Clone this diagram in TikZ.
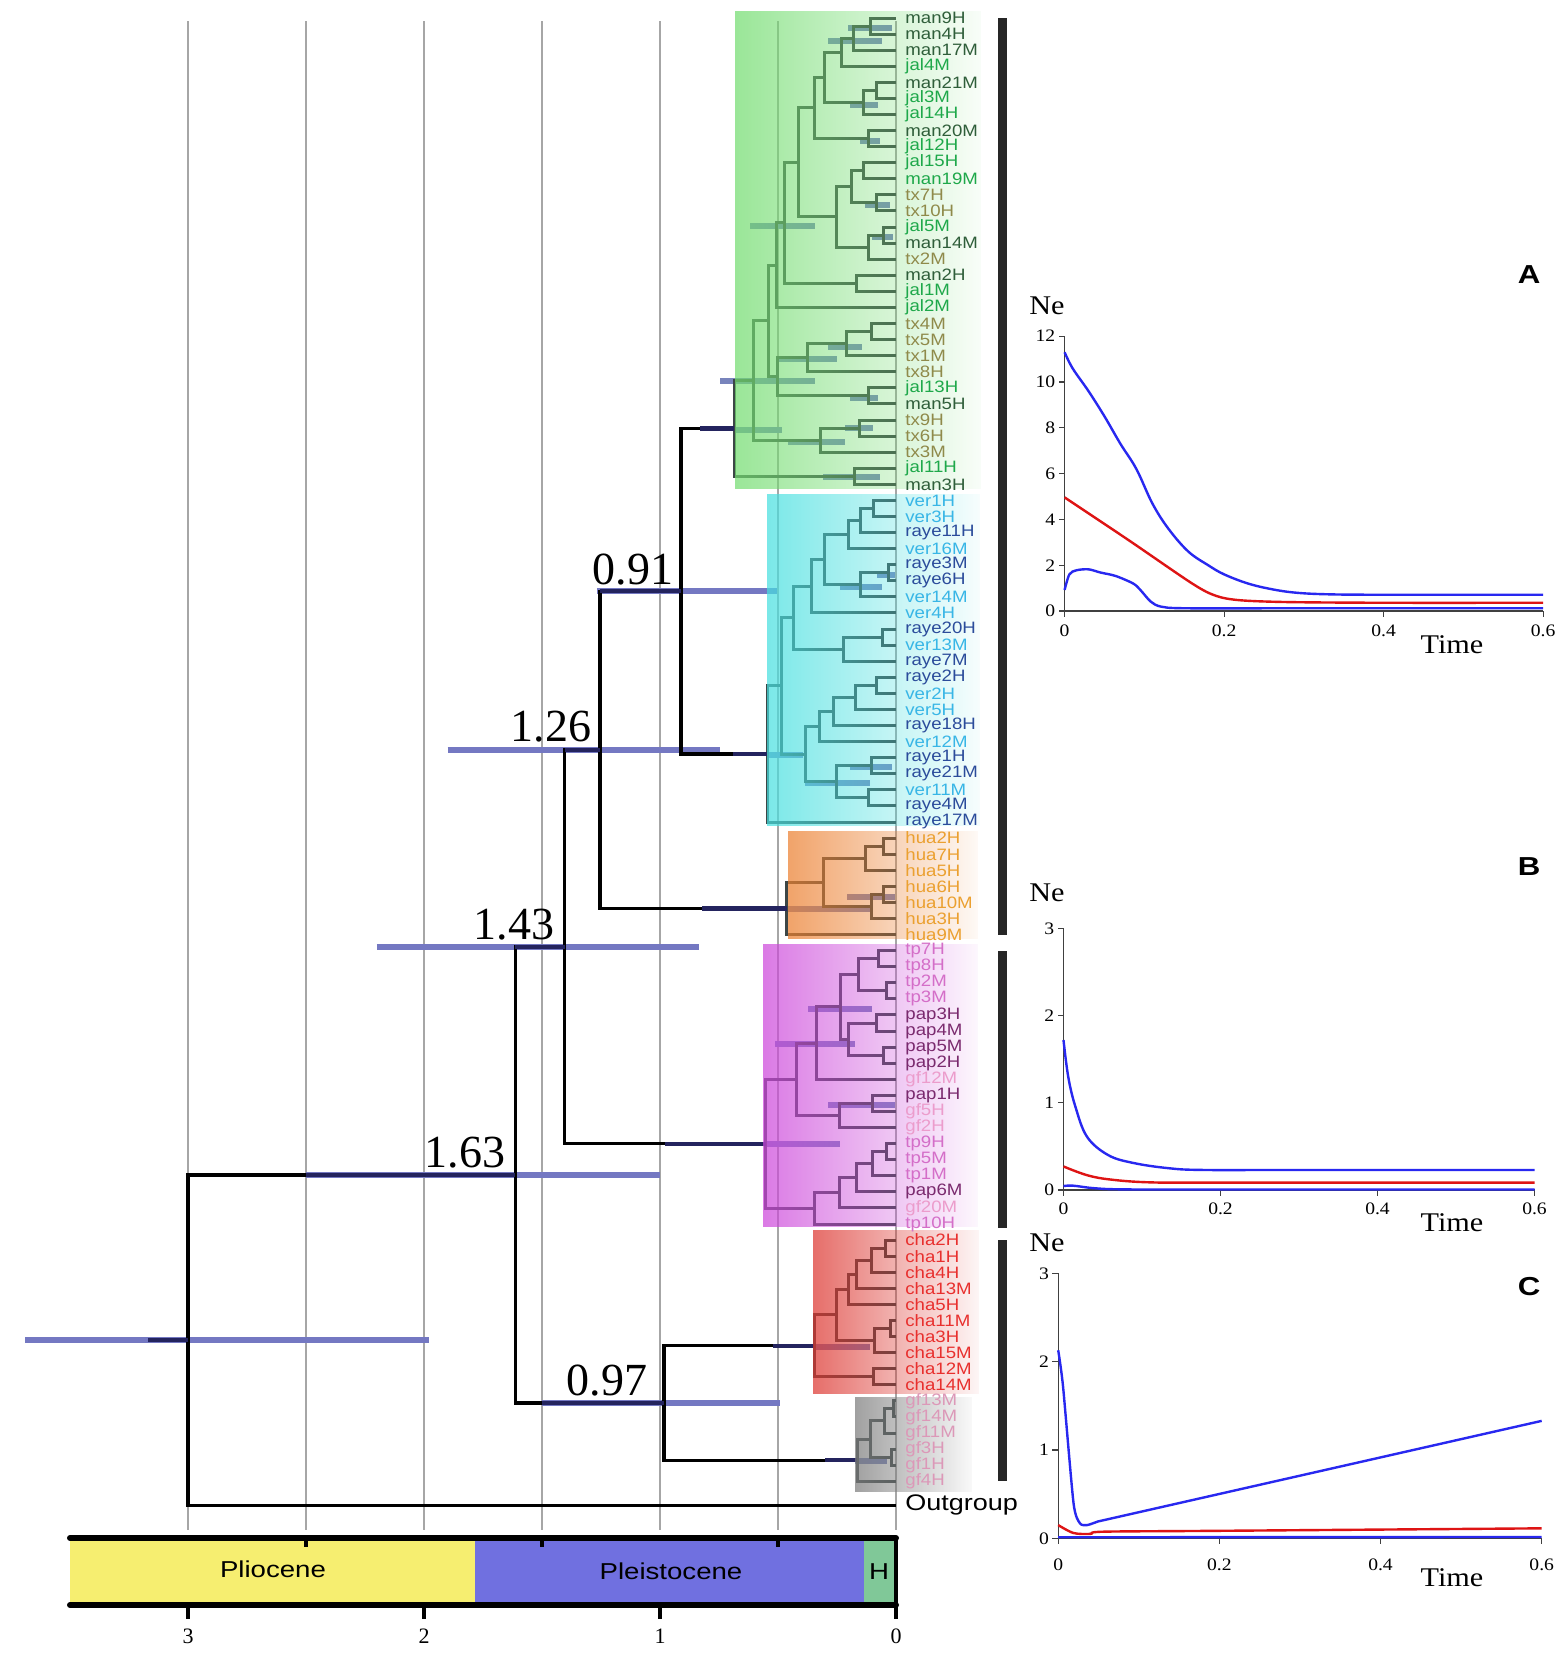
\documentclass[tikz,border=0pt]{standalone}
\usepackage{fontspec}
\setmainfont{Liberation Serif}
\newfontfamily\leaffont[FakeStretch=1.13]{Liberation Sans}
\newfontfamily\epfont[FakeStretch=1.2]{Liberation Sans}
\newfontfamily\plotfont[FakeStretch=1.12]{Liberation Serif}
\usetikzlibrary{fadings}
\pgfdeclarelayer{back}
\pgfdeclarelayer{hpdl}
\pgfsetlayers{back,hpdl,main}
% label colours
\definecolor{gD}{HTML}{2F5E3A}
\definecolor{gG}{HTML}{1EA84A}
\definecolor{gO}{HTML}{8F8A4A}
\definecolor{cyV}{HTML}{38B6E6}
\definecolor{cyR}{HTML}{2B4C9B}
\definecolor{oH}{HTML}{EBA030}
\definecolor{mT}{HTML}{D46EC8}
\definecolor{mP}{HTML}{7A2A6E}
\definecolor{mF}{HTML}{EC9CCC}
\definecolor{rC}{HTML}{E8302E}
\definecolor{yF}{HTML}{DC98B8}
% box colours
\definecolor{bxG}{RGB}{115,221,112}
\definecolor{bxC}{RGB}{71,224,224}
\definecolor{bxO}{RGB}{236,128,48}
\definecolor{bxM}{RGB}{205,71,219}
\definecolor{bxR}{RGB}{221,54,48}
\definecolor{bxY}{RGB}{124,124,124}
% lines
\definecolor{treecol}{HTML}{3C4646}
\definecolor{hpdcol}{HTML}{7478C2}
\definecolor{hpdcolc}{HTML}{7884BC}
\definecolor{navycol}{HTML}{24245E}
\definecolor{epY}{HTML}{F6EE70}
\definecolor{epB}{HTML}{7070E0}
\definecolor{epG}{HTML}{80C898}
\definecolor{plB}{RGB}{40,40,240}
\definecolor{plR}{RGB}{222,20,20}
\tikzfading[name=boxfade, left color=transparent!28, right color=transparent!96]
\newcommand\Y[1]{\csname ty#1\endcsname}
\newcommand\ND[5][tl]{%
  \pgfmathsetmacro\tmpy{(\Y{#4}+\Y{#5})/2}%
  \expandafter\xdef\csname ty#2\endcsname{\tmpy}%
  \coordinate (#2) at (#3,\tmpy);
  \draw[#1] (#4) -| (#2) |- (#5);
}
\newcommand\HPD[3]{\begin{pgfonlayer}{hpdl}\draw[hpdb] (#2,\Y{#1}) -- (#3,\Y{#1});\end{pgfonlayer}}
\newcommand\HB[3]{\draw[hpdc] (#1,#3) -- (#2,#3);}
\newcommand\LB[3]{\node[leaf,text=#3] (T#1) at (0,#1) {#2};}
\begin{document}
\begin{tikzpicture}[x=0.5pt,y=-0.5pt,
  treescope/.style={shift={(896,18)},x=-118pt,y=-8.04pt},
  tl/.style={draw=treecol,line width=1.5pt},
  bb/.style={draw=black,line width=1.6pt},
  hpdb/.style={draw=hpdcol,line width=3pt},
  hpdc/.style={draw=hpdcolc,line width=2.6pt},
  navseg/.style={draw=navycol,line width=2.3pt},
  gridl/.style={draw=black!35,line width=0.7pt},
  leaf/.style={anchor=west,inner sep=0pt,xshift=4.5pt,font=\leaffont\fontsize{8.25}{9}\selectfont},
  nodelab/.style={inner sep=0pt,font=\fontsize{23}{26}\selectfont},
  axisl/.style={draw=black!75,line width=0.6pt},
  tickl/.style={inner sep=0pt,font=\plotfont\fontsize{8.75}{10}\selectfont},
  bigl/.style={inner sep=0pt,font=\plotfont\fontsize{13.5}{15}\selectfont},
  abcl/.style={inner sep=0pt,font=\epfont\bfseries\fontsize{13}{15}\selectfont},
  curve/.style={line width=1.2pt},
  epl/.style={inner sep=0pt,font=\epfont\fontsize{11.5}{13}\selectfont},
  digl/.style={inner sep=0pt,font=\fontsize{11}{13}\selectfont}]
\useasboundingbox (0,0) rectangle (1562,1654);
\begin{pgfonlayer}{back}
  \fill[white] (0,0) rectangle (1562,1654);
  \foreach \x in {188,306,424,542,660,778,896} \draw[gridl] (\x,21) -- (\x,1530);
\end{pgfonlayer}

% ---------------- tree ----------------
\begin{scope}[treescope]
  \foreach \i in {0,...,91} {\coordinate (L\i) at (0,\i); \expandafter\xdef\csname tyL\i\endcsname{\i}}
  \coordinate (LOG) at (0,92.5); \expandafter\xdef\csname tyLOG\endcsname{92.5}
  % green
  \ND{g1}{0.110}{L0}{L1}
  \ND{g2}{0.181}{g1}{L2}
  \ND{g3}{0.233}{g2}{L3}
  \ND{g4}{0.082}{L4}{L5}
  \ND{g5}{0.138}{g4}{L6}
  \ND{g6}{0.301}{g3}{g5}
  \ND{g7}{0.116}{L7}{L8}
  \ND{g8}{0.347}{g6}{g7}
  \ND{g9}{0.138}{L9}{L10}
  \ND{g10}{0.082}{L11}{L12}
  \ND{g11}{0.188}{g9}{g10}
  \ND{g12}{0.054}{L13}{L14}
  \ND{g13}{0.116}{g12}{L15}
  \ND{g14}{0.251}{g11}{g13}
  \ND{g15}{0.414}{g8}{g14}
  \ND{g16}{0.167}{L16}{L17}
  \ND{g17}{0.473}{g15}{g16}
  \ND{g18}{0.506}{g17}{L18}
  \ND{g19}{0.103}{L19}{L20}
  \ND{g20}{0.209}{g19}{L21}
  \ND{g21}{0.374}{g20}{L22}
  \ND{g22}{0.117}{L23}{L24}
  \ND{g23}{0.501}{g21}{g22}
  \ND{g24}{0.541}{g18}{g23}
  \ND{g25}{0.153}{L25}{L26}
  \ND{g26}{0.322}{g25}{L27}
  \ND{g27}{0.604}{g24}{g26}
  \ND{g28}{0.174}{L28}{L29}
  \ND{gR}{0.686}{g27}{g28}
  % cyan
  \ND{c1}{0.096}{L30}{L31}
  \ND{c2}{0.149}{c1}{L32}
  \ND{c3}{0.202}{c2}{L33}
  \ND{c4}{0.032}{L34}{L35}
  \ND{c5}{0.149}{c4}{L36}
  \ND{c6}{0.301}{c3}{c5}
  \ND{c7}{0.36}{c6}{L37}
  \ND{c8}{0.056}{L38}{L39}
  \ND{c9}{0.223}{c8}{L40}
  \ND{c10}{0.435}{c7}{c9}
  \ND{c11}{0.082}{L41}{L42}
  \ND{c12}{0.17}{c11}{L43}
  \ND{c13}{0.266}{c12}{L44}
  \ND{c14}{0.326}{c13}{L45}
  \ND{c15}{0.103}{L46}{L47}
  \ND{c16}{0.117}{L48}{L49}
  \ND{c17}{0.252}{c15}{c16}
  \ND{c18}{0.383}{c14}{c17}
  \ND{c19}{0.484}{c10}{c18}
  \ND{cR}{0.545}{c19}{L50}
  % orange
  \ND{o1}{0.054}{L51}{L52}
  \ND{o2}{0.131}{o1}{L53}
  \ND{o3}{0.054}{L54}{L55}
  \ND{o4}{0.103}{o3}{L56}
  \ND{o5}{0.308}{o2}{o4}
  \ND{oR}{0.462}{o5}{L57}
  % magenta
  \ND{m1}{0.075}{L58}{L59}
  \ND{m2}{0.042}{L60}{L61}
  \ND{m3}{0.16}{m1}{m2}
  \ND{m4}{0.082}{L62}{L63}
  \ND{m5}{0.053}{L64}{L65}
  \ND{m6}{0.202}{m4}{m5}
  \ND{m7}{0.234}{m3}{m6}
  \ND{m8}{0.336}{m7}{L66}
  \ND{m9}{0.1}{L67}{L68}
  \ND{m10}{0.24}{m9}{L69}
  \ND{m11}{0.421}{m8}{m10}
  \ND{m12}{0.04}{L70}{L71}
  \ND{m13}{0.1}{m12}{L72}
  \ND{m14}{0.166}{m13}{L73}
  \ND{m15}{0.24}{m14}{L74}
  \ND{m16}{0.347}{m15}{L75}
  \ND{mR}{0.552}{m11}{m16}
  % red
  \ND{r1}{0.044}{L76}{L77}
  \ND{r2}{0.103}{r1}{L78}
  \ND{r3}{0.166}{r2}{L79}
  \ND{r4}{0.202}{r3}{L80}
  \ND{r5}{0.025}{L81}{L82}
  \ND{r6}{0.093}{r5}{L83}
  \ND{r7}{0.251}{r4}{r6}
  \ND{r8}{0.096}{L84}{L85}
  \ND{rR}{0.347}{r7}{r8}
  % gray
  \ND{y1}{0.011}{L86}{L87}
  \ND{y2}{0.047}{y1}{L88}
  \ND{y3}{0.018}{L89}{L90}
  \ND{y4}{0.11}{y2}{y3}
  \ND{yR}{0.165}{y4}{L91}
  % backbone
  \ND[bb]{n091}{0.911}{gR}{cR}
  \ND[bb]{n126}{1.254}{n091}{oR}
  \ND[bb]{n143}{1.403}{n126}{mR}
  \ND[bb]{n097}{0.983}{rR}{yR}
  \ND[bb]{n163}{1.614}{n143}{n097}
  \ND[bb]{nRoot}{3.0}{n163}{LOG}
  % backbone HPD bars
  \HPD{nRoot}{3.69}{1.98}
  \HPD{n163}{2.5}{1.0}
  \HPD{n143}{2.2}{0.835}
  \HPD{n126}{1.9}{0.746}
  \HPD{n091}{1.267}{0.504}
  \HPD{n097}{1.5}{0.49}
  % dark overlaps of bars and branches
  \draw[navseg] (nRoot) -- (3.17,\Y{nRoot});
  \draw[navseg] (n163) -- (2.5,\Y{n163});
  \draw[navseg] (n143) -- (1.614,\Y{n143});
  \draw[navseg] (n126) -- (1.403,\Y{n126});
  \draw[navseg] (n091) -- (1.254,\Y{n091});
  \draw[navseg] (n097) -- (1.5,\Y{n097});
  \draw[navseg] (gR) -- (0.83,\Y{gR});
  \draw[navseg] (cR) -- (0.69,\Y{cR});
  \draw[navseg] (oR) -- (0.82,\Y{oR});
  \draw[navseg] (mR) -- (0.98,\Y{mR});
  \draw[navseg] (rR) -- (0.52,\Y{rR});
  \draw[navseg] (yR) -- (0.30,\Y{yR});
\end{scope}

% clade HPD bars
\begin{pgfonlayer}{hpdl}
  \HB{848}{892}{28}  \HB{828}{882}{41}  \HB{850}{878}{105} \HB{860}{880}{141}
  \HB{865}{890}{205} \HB{750}{815}{226} \HB{872}{893}{237} \HB{828}{862}{347}
  \HB{778}{837}{359} \HB{720}{815}{381} \HB{850}{878}{398} \HB{845}{873}{428}
  \HB{736}{782}{430} \HB{788}{845}{442} \HB{823}{880}{477}
  \HB{877}{895}{575} \HB{840}{882}{587} \HB{850}{892}{767} \HB{805}{870}{783}
  \HB{767}{803}{755}
  \HB{847}{895}{897} \HB{788}{870}{909}
  \HB{808}{872}{1009} \HB{775}{855}{1044} \HB{828}{895}{1105} \HB{767}{840}{1144}
  \HB{813}{870}{1347}
  \HB{855}{887}{1461}
\end{pgfonlayer}

% clade boxes
\fill[bxG, path fading=boxfade] (735,11) rectangle (981,489);
\fill[bxC, path fading=boxfade] (767,494) rectangle (980,826);
\fill[bxO, path fading=boxfade] (788,831) rectangle (978,939);
\fill[bxM, path fading=boxfade] (763,944) rectangle (978,1227);
\fill[bxR, path fading=boxfade] (813,1230) rectangle (979,1394);
\fill[bxY, path fading=boxfade] (855,1397) rectangle (972,1492);

% leaf labels
\begin{scope}[treescope]
\LB{0}{man9H}{gD}
\LB{1}{man4H}{gD}
\LB{2}{man17M}{gD}
\LB{3}{jal4M}{gG}
\LB{4}{man21M}{gD}
\LB{5}{jal3M}{gG}
\LB{6}{jal14H}{gG}
\LB{7}{man20M}{gD}
\LB{8}{jal12H}{gG}
\LB{9}{jal15H}{gG}
\LB{10}{man19M}{gG}
\LB{11}{tx7H}{gO}
\LB{12}{tx10H}{gO}
\LB{13}{jal5M}{gG}
\LB{14}{man14M}{gD}
\LB{15}{tx2M}{gO}
\LB{16}{man2H}{gD}
\LB{17}{jal1M}{gG}
\LB{18}{jal2M}{gG}
\LB{19}{tx4M}{gO}
\LB{20}{tx5M}{gO}
\LB{21}{tx1M}{gO}
\LB{22}{tx8H}{gO}
\LB{23}{jal13H}{gG}
\LB{24}{man5H}{gD}
\LB{25}{tx9H}{gO}
\LB{26}{tx6H}{gO}
\LB{27}{tx3M}{gO}
\LB{28}{jal11H}{gG}
\LB{29}{man3H}{gD}
\LB{30}{ver1H}{cyV}
\LB{31}{ver3H}{cyV}
\LB{32}{raye11H}{cyR}
\LB{33}{ver16M}{cyV}
\LB{34}{raye3M}{cyR}
\LB{35}{raye6H}{cyR}
\LB{36}{ver14M}{cyV}
\LB{37}{ver4H}{cyV}
\LB{38}{raye20H}{cyR}
\LB{39}{ver13M}{cyV}
\LB{40}{raye7M}{cyR}
\LB{41}{raye2H}{cyR}
\LB{42}{ver2H}{cyV}
\LB{43}{ver5H}{cyV}
\LB{44}{raye18H}{cyR}
\LB{45}{ver12M}{cyV}
\LB{46}{raye1H}{cyR}
\LB{47}{raye21M}{cyR}
\LB{48}{ver11M}{cyV}
\LB{49}{raye4M}{cyR}
\LB{50}{raye17M}{cyR}
\LB{51}{hua2H}{oH}
\LB{52}{hua7H}{oH}
\LB{53}{hua5H}{oH}
\LB{54}{hua6H}{oH}
\LB{55}{hua10M}{oH}
\LB{56}{hua3H}{oH}
\LB{57}{hua9M}{oH}
\LB{58}{tp7H}{mT}
\LB{59}{tp8H}{mT}
\LB{60}{tp2M}{mT}
\LB{61}{tp3M}{mT}
\LB{62}{pap3H}{mP}
\LB{63}{pap4M}{mP}
\LB{64}{pap5M}{mP}
\LB{65}{pap2H}{mP}
\LB{66}{gf12M}{mF}
\LB{67}{pap1H}{mP}
\LB{68}{gf5H}{mF}
\LB{69}{gf2H}{mF}
\LB{70}{tp9H}{mT}
\LB{71}{tp5M}{mT}
\LB{72}{tp1M}{mT}
\LB{73}{pap6M}{mP}
\LB{74}{gf20M}{mF}
\LB{75}{tp10H}{mT}
\LB{76}{cha2H}{rC}
\LB{77}{cha1H}{rC}
\LB{78}{cha4H}{rC}
\LB{79}{cha13M}{rC}
\LB{80}{cha5H}{rC}
\LB{81}{cha11M}{rC}
\LB{82}{cha3H}{rC}
\LB{83}{cha15M}{rC}
\LB{84}{cha12M}{rC}
\LB{85}{cha14M}{rC}
\LB{86}{gf13M}{yF}
\LB{87}{gf14M}{yF}
\LB{88}{gf11M}{yF}
\LB{89}{gf3H}{yF}
\LB{90}{gf1H}{yF}
\LB{91}{gf4H}{yF}
\node[anchor=west,inner sep=0pt,xshift=4.5pt,font=\epfont\fontsize{11.25}{13}\selectfont] (TOG) at (0,92.5) {Outgroup};
\end{scope}

% node age labels
\node[nodelab] (lab163) at (465,1153) {1.63};
\node[nodelab] (lab143) at (514,925) {1.43};
\node[nodelab] (lab126) at (551,727) {1.26};
\node[nodelab] (lab091) at (633,570) {0.91};
\node[nodelab] (lab097) at (607,1381) {0.97};

% right bars
\fill[black!85] (998,18) rectangle (1007,935);
\fill[black!85] (998,951) rectangle (1007,1228);
\fill[black!85] (998,1240) rectangle (1007,1481);

% time bar
\fill[epY] (70,1538) rectangle (475,1605);
\fill[epB] (475,1538) rectangle (864,1605);
\fill[epG] (864,1538) rectangle (894,1605);
\draw[line width=3pt,line cap=round] (70,1538) -- (896,1538);
\draw[line width=3pt,line cap=round] (70,1605) -- (896,1605);
\draw[line width=2pt] (896,1538) -- (896,1605);
\foreach \x in {306,542,778} \draw[line width=1.6pt] (\x,1538) -- (\x,1547);
\foreach \x in {188,424,660,896} \draw[line width=2pt] (\x,1605) -- (\x,1619);
\node[epl] (epP) at (273,1569) {Pliocene};
\node[epl] (epPl) at (671,1571) {Pleistocene};
\node[epl] (epH) at (879,1572) {H};
\node[digl] (d3) at (188,1636) {3};
\node[digl] (d2) at (424,1636) {2};
\node[digl] (d1) at (660,1636) {1};
\node[digl] (d0) at (896,1636) {0};

% ---------------- plot A ----------------
\node[abcl] (labA) at (1529,275) {A};
\node[bigl] (neA) at (1047,306) {Ne};
\node[bigl] (timeA) at (1452,645) {Time};
\begin{scope}[shift={(1064.6,611)},x=398.75pt,y=11.45pt]
  \draw[axisl] (0,12) -- (0,0) -- (0.6,0);
  \foreach \v in {0,2,4,6,8,10,12} {\draw[axisl] (0,\v) -- ++(-3pt,0pt); \node[tickl,anchor=east] (ay\v) at ([xshift=-4.5pt]0,\v) {\v};}
  \foreach \v/\n in {0/a,0.2/b,0.4/c,0.6/d} {\draw[axisl] (\v,0) -- ++(0pt,-3pt); \node[tickl,anchor=north] (ax\n) at ([yshift=-6.5pt]\v,0) {\v};}
  \draw[curve,plB] plot[smooth,tension=0.6] coordinates {(0,11.3) (0.01,10.6) (0.03,9.6) (0.05,8.5) (0.07,7.3) (0.09,6.2) (0.11,4.7) (0.13,3.6) (0.155,2.6) (0.18,2.0) (0.2,1.6) (0.23,1.2) (0.26,0.95) (0.29,0.8) (0.33,0.73) (0.4,0.71) (0.6,0.71)};
  \draw[curve,plR] plot[smooth,tension=0.5] coordinates {(0,4.96) (0.08,3.1) (0.16,1.2) (0.19,0.66) (0.22,0.47) (0.28,0.39) (0.4,0.36) (0.6,0.36)};
  \draw[curve,plB] plot[smooth,tension=0.5] coordinates {(0,0.92) (0.006,1.6) (0.015,1.78) (0.03,1.82) (0.045,1.68) (0.064,1.53) (0.086,1.2) (0.095,0.92) (0.108,0.41) (0.121,0.19) (0.152,0.12) (0.3,0.12) (0.6,0.12)};
\end{scope}

% ---------------- plot B ----------------
\node[abcl] (labB) at (1529,867) {B};
\node[bigl] (neB) at (1047,893) {Ne};
\node[bigl] (timeB) at (1452,1223) {Time};
\begin{scope}[shift={(1063.5,1190)},x=392.5pt,y=43.6pt]
  \draw[axisl] (0,3) -- (0,0) -- (0.6,0);
  \foreach \v in {0,1,2,3} {\draw[axisl] (0,\v) -- ++(-3pt,0pt); \node[tickl,anchor=east] (by\v) at ([xshift=-4.5pt]0,\v) {\v};}
  \foreach \v/\n in {0/a,0.2/b,0.4/c,0.6/d} {\draw[axisl] (\v,0) -- ++(0pt,-3pt); \node[tickl,anchor=north] (bx\n) at ([yshift=-6pt]\v,0) {\v};}
  \draw[curve,plB] plot[smooth,tension=0.6] coordinates {(0,1.72) (0.006,1.3) (0.015,0.96) (0.03,0.61) (0.057,0.40) (0.089,0.31) (0.134,0.25) (0.178,0.23) (0.3,0.23) (0.6,0.23)};
  \draw[curve,plR] plot[smooth,tension=0.6] coordinates {(0,0.27) (0.03,0.17) (0.06,0.12) (0.11,0.088) (0.2,0.085) (0.6,0.085)};
  \draw[curve,plB] plot[smooth,tension=0.6] coordinates {(0,0.045) (0.012,0.05) (0.04,0.02) (0.08,0.007) (0.2,0.006) (0.6,0.006)};
\end{scope}

% ---------------- plot C ----------------
\node[abcl] (labC) at (1529,1287) {C};
\node[bigl] (neC) at (1047,1243) {Ne};
\node[bigl] (timeC) at (1452,1578) {Time};
\begin{scope}[shift={(1058.2,1538.3)},x=402.9pt,y=44.15pt]
  \draw[axisl] (0,3) -- (0,0) -- (0.6,0);
  \foreach \v in {0,1,2,3} {\draw[axisl] (0,\v) -- ++(-3pt,0pt); \node[tickl,anchor=east] (cy\v) at ([xshift=-4.5pt]0,\v) {\v};}
  \foreach \v/\n in {0/a,0.2/b,0.4/c,0.6/d} {\draw[axisl] (\v,0) -- ++(0pt,-3pt); \node[tickl,anchor=north] (cx\n) at ([yshift=-10pt]\v,0) {\v};}
  \draw[curve,plB] plot[smooth,tension=0.4] coordinates {(0,2.13) (0.006,1.72) (0.019,0.40) (0.027,0.17) (0.036,0.15) (0.049,0.19)} -- (0.6,1.33);
  \draw[curve,plR] plot[smooth,tension=0.5] coordinates {(0,0.15) (0.019,0.06) (0.04,0.05) (0.056,0.075) (0.2,0.085) (0.6,0.113)};
  \draw[curve,plB] (0,0.012) -- (0.6,0.015);
\end{scope}
\end{tikzpicture}
\end{document}
